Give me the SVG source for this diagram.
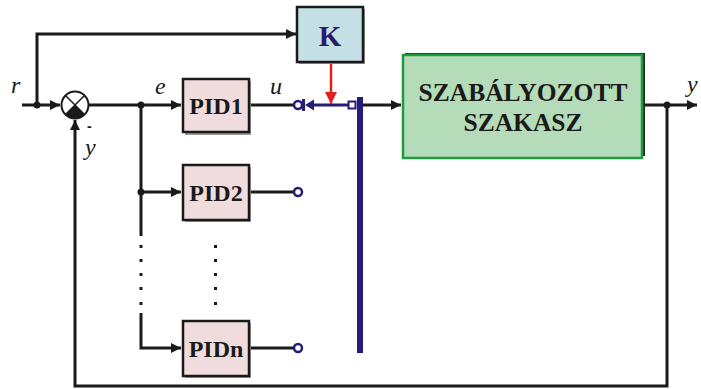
<svg xmlns="http://www.w3.org/2000/svg" width="701" height="389" viewBox="0 0 701 389">
<style>
.ln{fill:none;stroke:#1a1a1a;stroke-width:3}
.bl{fill:none;stroke:#241c78;stroke-width:3}
.box{stroke:#1a1a1a;stroke-width:2.5}
.pid{fill:#f0dcdc}
.lbl{font-family:"Liberation Serif",serif;font-weight:bold;fill:#1a1a1a;text-anchor:middle}
.it{font-family:"Liberation Serif",serif;font-style:italic;fill:#1a1a1a;font-size:24px}
.dot{fill:#1a1a1a}
.sh{fill:#9a9a9a}
</style>
<defs>
<marker id="ah" markerWidth="10" markerHeight="10" refX="10" refY="5" orient="auto" markerUnits="userSpaceOnUse" viewBox="0 0 10 10">
<path d="M0,0 L10,5 L0,10 z" fill="#1a1a1a"/>
</marker>
<marker id="ahr" markerWidth="12" markerHeight="12" refX="12" refY="6" orient="auto" markerUnits="userSpaceOnUse" viewBox="0 0 12 12">
<path d="M0,0 L12,6 L0,12 z" fill="#e02020"/>
</marker>
</defs>

<g id="connectors">
<path class="ln" d="M22,105 H60" marker-end="url(#ah)"/>
<circle class="dot" cx="37" cy="105" r="3.5"/>
<path class="ln" d="M37,105 V34 H296" marker-end="url(#ah)"/>
<path class="ln" d="M89,105 H181" marker-end="url(#ah)"/>
<circle class="dot" cx="141" cy="105" r="3.5"/>
<path class="ln" d="M141,105 V236"/>
<path class="ln" d="M141,192 H181" marker-end="url(#ah)"/>
<circle class="dot" cx="141" cy="192" r="3.5"/>
<path class="ln" d="M141,313 V348 H181" marker-end="url(#ah)"/>
<g class="dot">
<rect x="139.5" y="245" width="3" height="3"/>
<rect x="139.5" y="259" width="3" height="3"/>
<rect x="139.5" y="273" width="3" height="3"/>
<rect x="139.5" y="287" width="3" height="3"/>
<rect x="139.5" y="302" width="3" height="3"/>
<rect x="214" y="245" width="3" height="3"/>
<rect x="214" y="259" width="3" height="3"/>
<rect x="214" y="273" width="3" height="3"/>
<rect x="214" y="287" width="3" height="3"/>
<rect x="214" y="302" width="3" height="3"/>
</g>
<path class="ln" d="M249,105 H294"/>
<path class="ln" d="M249,192 H294"/>
<path class="ln" d="M249,348 H294"/>
<g fill="#fff" stroke="#241c78" stroke-width="2.5">
<circle cx="298" cy="105" r="4"/>
<circle cx="298" cy="192" r="4"/>
<circle cx="298" cy="348" r="4"/>
</g>
<path class="bl" d="M303.5,99 V111"/>
<path d="M305,105 L314,99.5 V110.5 z" fill="#241c78"/>
<path class="bl" d="M313,105 H348"/>
<rect x="348.5" y="101.5" width="7" height="7" fill="#fff" stroke="#241c78" stroke-width="2"/>
<rect x="357" y="97" width="6" height="256" fill="#241c78"/>
<path d="M331,63 V104" fill="none" stroke="#e02020" stroke-width="2.5" marker-end="url(#ahr)"/>
<path class="ln" d="M363,105 H401" marker-end="url(#ah)"/>
<path class="ln" d="M643,105 H697" marker-end="url(#ah)"/>
<circle class="dot" cx="667" cy="105" r="3.5"/>
<path class="ln" d="M667,105 V386 H75 V120" marker-end="url(#ah)"/>
</g>

<g id="sum">
<circle cx="75" cy="105" r="13.5" fill="#fff" stroke="#1a1a1a" stroke-width="2"/>
<path d="M75,105 L84.5,114.5 A13.5,13.5 0 0 1 65.5,114.5 z" fill="#1a1a1a"/>
<path d="M65.5,95.5 L84.5,114.5 M84.5,95.5 L65.5,114.5" stroke="#1a1a1a" stroke-width="1.5"/>
</g>

<g id="labels">
<text class="it" x="11" y="93">r</text>
<text class="it" x="155" y="94">e</text>
<text class="it" x="270" y="94">u</text>
<text class="it" x="85" y="155">y</text>
<text x="87" y="131" font-family="Liberation Sans,sans-serif" font-size="14" font-weight="bold" fill="#1a1a1a">-</text>
<text class="it" x="687" y="92">y</text>
</g>

<g id="K">
<rect x="299" y="9" width="66" height="55" class="sh"/>
<rect x="297" y="7" width="66" height="55" fill="#c5e0e4" class="box"/>
<text x="330" y="46" class="lbl" font-size="29" style="fill:#2a1a6e">K</text>
</g>

<g id="PID1">
<rect x="185" y="81" width="66" height="54" class="sh"/>
<rect x="183" y="79" width="66" height="53" class="box pid"/>
<text x="216" y="114" class="lbl" font-size="24">PID1</text>
</g>
<g id="PID2">
<rect x="185" y="167" width="66" height="55" class="sh"/>
<rect x="183" y="165" width="66" height="55" class="box pid"/>
<text x="216" y="201" class="lbl" font-size="24">PID2</text>
</g>
<g id="PIDn">
<rect x="185" y="323" width="66" height="55" class="sh"/>
<rect x="183" y="321" width="66" height="55" class="box pid"/>
<text x="216" y="357" class="lbl" font-size="24">PIDn</text>
</g>

<g id="plant">
<rect x="405" y="53" width="240" height="103" fill="#2a2a2a"/>
<rect x="403" y="55" width="239" height="103" fill="#b5dcb8" stroke="#1f9a3e" stroke-width="2.5"/>
<text x="523" y="101" class="lbl" font-size="25.5">SZABÁLYOZOTT</text>
<text x="523" y="131" class="lbl" font-size="25.5">SZAKASZ</text>
</g>
</svg>
